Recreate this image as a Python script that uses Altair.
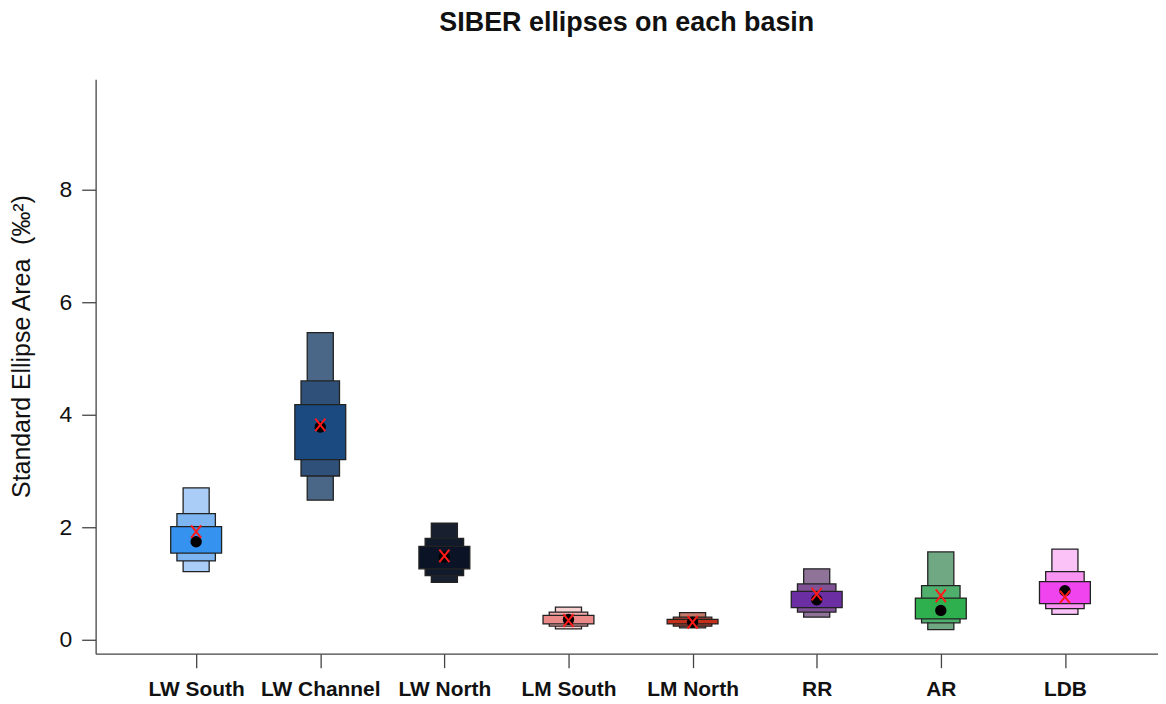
import altair as alt
import pandas as pd

groups = ["LW South", "LW Channel", "LW North", "LM South", "LM North", "RR", "AR", "LDB"]

# credible-interval boxes (outer = widest interval, inner = narrowest)
outer_lo = [1.21, 2.48, 1.02, 0.19, 0.21, 0.40, 0.18, 0.45]
outer_hi = [2.70, 5.46, 2.07, 0.58, 0.48, 1.26, 1.56, 1.61]
mid_lo = [1.40, 2.91, 1.14, 0.24, 0.24, 0.49, 0.30, 0.55]
mid_hi = [2.24, 4.60, 1.80, 0.49, 0.40, 0.99, 0.96, 1.21]
inner_lo = [1.54, 3.20, 1.26, 0.28, 0.28, 0.57, 0.37, 0.64]
inner_hi = [2.01, 4.18, 1.66, 0.43, 0.36, 0.86, 0.74, 1.03]

mode_vals = [1.74, 3.78, 1.47, 0.36, 0.31, 0.71, 0.52, 0.87]
ml_vals = [1.92, 3.82, 1.49, 0.34, 0.31, 0.81, 0.78, 0.76]

outer_cols = ["#a9cdf7", "#4a6787", "#182030", "#f8d0d0", "#c47868", "#8f7399", "#6fa883", "#fbc2f8"]
mid_cols = ["#7db5f0", "#2f5078", "#111a2a", "#f2a9a9", "#ac4432", "#7f5296", "#4fb06e", "#fa94f3"]
inner_cols = ["#3592ef", "#1a4a7f", "#0b1426", "#ec8a8a", "#c4301a", "#6b2fa3", "#2fb04f", "#f044ee"]

levels = ["outer", "mid", "inner"]
half_w = {"outer": 0.105, "mid": 0.155, "inner": 0.205}

rows = []
for i, g in enumerate(groups):
    for lev, lo, hi in [("outer", outer_lo, outer_hi), ("mid", mid_lo, mid_hi), ("inner", inner_lo, inner_hi)]:
        rows.append({"group": g, "idx": i + 1, "level": lev, "order": levels.index(lev),
                     "hw": half_w[lev], "lo": lo[i], "hi": hi[i], "key": f"{g}|{lev}"})
boxes = pd.DataFrame(rows)

color_domain = []
color_range = []
for i, g in enumerate(groups):
    for lev, cols in [("outer", outer_cols), ("mid", mid_cols), ("inner", inner_cols)]:
        color_domain.append(f"{g}|{lev}")
        color_range.append(cols[i])

pts = pd.DataFrame({"group": groups, "idx": list(range(1, 9)), "mode": mode_vals, "ml": ml_vals})

label_expr = "[" + ",".join(f"'{g}'" for g in groups) + "][datum.value - 1]"

x_scale = alt.Scale(domain=[0.19, 8.75], nice=False, zero=False)
y_scale = alt.Scale(domain=[-0.25, 9.965], nice=False, zero=False)

x_axis = alt.Axis(values=list(range(1, 9)), labelExpr=label_expr, title=None, grid=False,
                  tickSize=14, labelPadding=11, labelFontSize=21, labelFontWeight="bold",
                  labelColor="#111", domainColor="#444", tickColor="#444", domainWidth=1.3, tickWidth=1.3,
                  labelFont="Liberation Sans")
y_axis = alt.Axis(values=[0, 2, 4, 6, 8], format="d", title="Standard Ellipse Area \u00a0(‰²)", grid=False,
                  tickSize=14, labelPadding=10, labelFontSize=23, labelColor="#111",
                  domainColor="#444", tickColor="#444", domainWidth=1.3, tickWidth=1.3,
                  labelFont="Liberation Sans", titleFont="Liberation Sans",
                  titleFontSize=25, titleFontWeight="normal", titleColor="#111",
                  titleAngle=270, titleX=-74, titleY=268, titleAlign="center", titleBaseline="middle")

rects = alt.Chart(boxes).transform_calculate(
    x1="datum.idx - datum.hw", x2="datum.idx + datum.hw"
).mark_rect(stroke="#222", strokeWidth=1.3).encode(
    x=alt.X("x1:Q", scale=x_scale, axis=x_axis),
    x2="x2:Q",
    y=alt.Y("lo:Q", scale=y_scale, axis=y_axis),
    y2="hi:Q",
    color=alt.Color("key:N", scale=alt.Scale(domain=color_domain, range=color_range), legend=None),
    order=alt.Order("order:Q"),
)

dots = alt.Chart(pts).mark_point(filled=True, color="black", size=130, opacity=1, shape="circle").encode(
    x=alt.X("idx:Q", scale=x_scale),
    y=alt.Y("mode:Q", scale=y_scale),
)

crosses = alt.Chart(pts).mark_point(shape="M-0.8,-1L0.8,1M0.8,-1L-0.8,1", stroke="#ff1a1a", strokeWidth=2,
                                      size=160, filled=False, opacity=1).encode(
    x=alt.X("idx:Q", scale=x_scale),
    y=alt.Y("ml:Q", scale=y_scale),
)

chart = alt.layer(rects, dots, crosses).properties(
    width=1067, height=577,
    autosize=alt.AutoSizeParams(type="none"),
    padding={"left": 88, "top": 70, "right": 0, "bottom": 50},
    title=alt.TitleParams("SIBER ellipses on each basin", fontSize=27, fontWeight="bold",
                          font="Liberation Sans", anchor="middle", offset=21,
                          baseline="alphabetic", color="#111"),
).configure(font="Liberation Sans").configure_view(strokeWidth=0)

chart.save("out.html", embed_options={"renderer": "svg", "actions": False})
